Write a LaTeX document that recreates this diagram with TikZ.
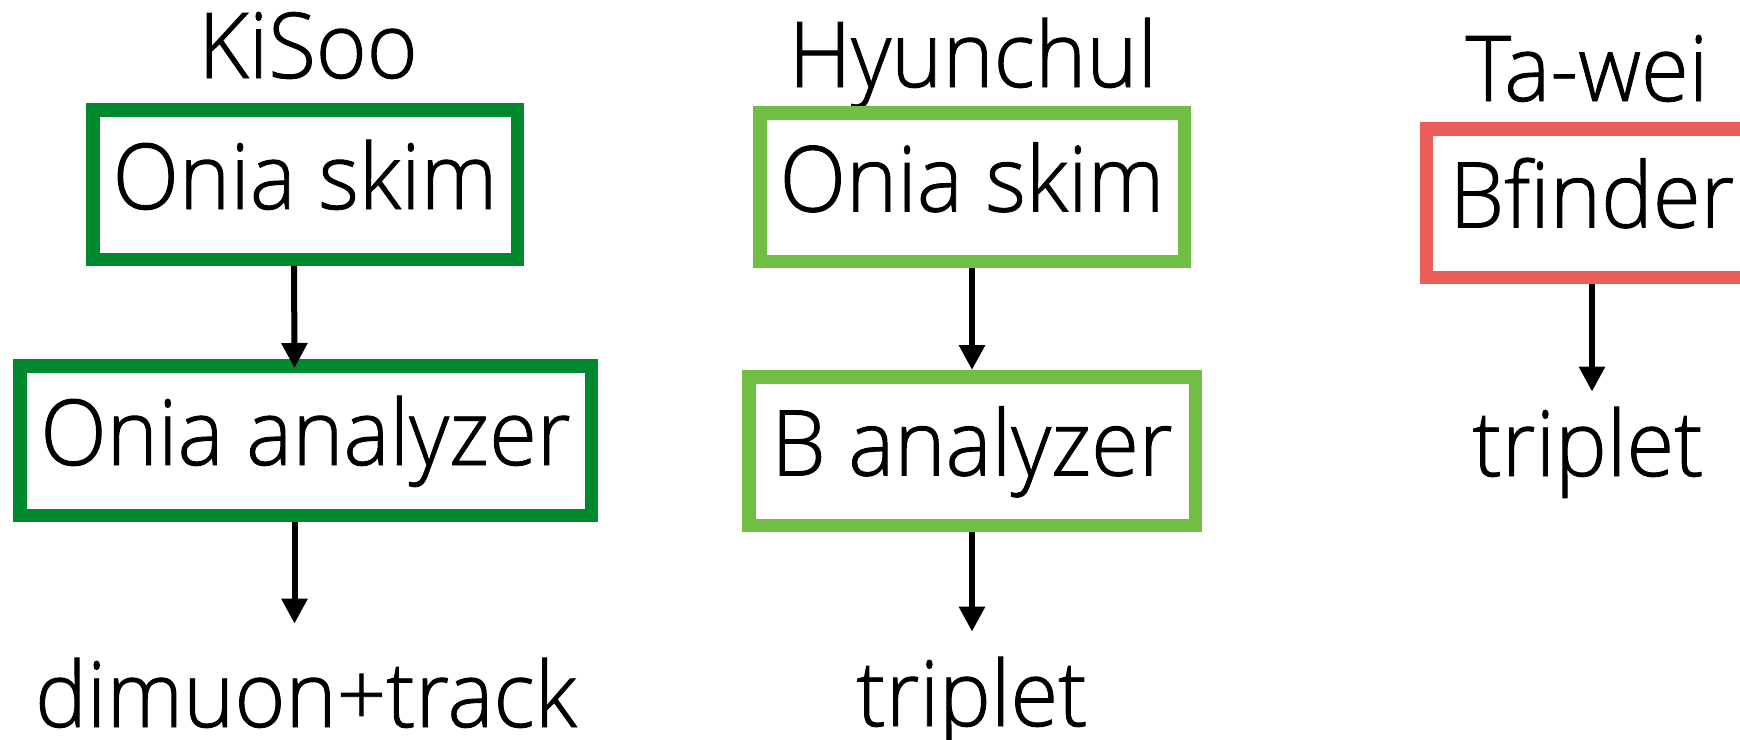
\documentclass[tikz,border=0pt]{standalone}
\usepackage{fontspec}
\setmainfont{Open Sans Light}[FakeStretch=0.955,FakeBold=1]
\usetikzlibrary{arrows.meta}
\definecolor{dkgreen}{RGB}{0,136,46}
\definecolor{ltgreen}{RGB}{112,191,68}
\definecolor{redbox}{RGB}{235,94,90}
\tikzset{
  lbl/.style={inner sep=0pt, anchor=base, font=\fontsize{45.5}{50}\selectfont},
  outtxt/.style={inner sep=0pt, anchor=base, text height=34.5pt, text depth=0pt, font=\fontsize{45.5}{50}\selectfont},
  procbox/.style={draw=#1, line width=6.75pt, inner sep=0pt, text height=32.5pt, text depth=8pt, fill=white, font=\fontsize{45.5}{50}\selectfont},
  arr/.style={line width=3pt, -{Triangle[width=12.5pt,length=12.5pt]}}
}
\begin{document}
\begin{tikzpicture}[x=0.5pt,y=-0.5pt]
\clip (0,0) rectangle (1740,739);
\fill[white] (0,0) rectangle (1740,739);
% headers
\node[lbl] (h1) at (308,78) {KiSoo};
\node[lbl] (h2) at (973,87) {Hyunchul};
\node[lbl] (h3) at (1587,101) {Ta-wei};
% boxes
\node[procbox=dkgreen, minimum width=212.25pt, minimum height=74.75pt] (b1) at (305,184.5) {Onia skim};
\node[procbox=dkgreen, minimum width=285.75pt, minimum height=74.75pt] (b2) at (305.5,440.5) {Onia analyzer};
\node[procbox=ltgreen, minimum width=212.25pt, minimum height=74.25pt] (b3) at (972,187) {Onia skim};
\node[procbox=ltgreen, minimum width=223.25pt, minimum height=74.25pt] (b4) at (972,451) {B analyzer};
\node[procbox=redbox, minimum width=165.75pt, minimum height=74.25pt] (b5) at (1592,203) {Bfinder};
% outputs
\node[outtxt] (o1) at (306,727) {dimuon+track};
\node[outtxt] (o2) at (972,726) {triplet};
\node[outtxt] (o3) at (1588,476) {triplet};
% arrows
\draw[arr, shorten >=-4.5pt] ([xshift=-5.5pt]b1.south) -- ([xshift=-5.5pt]b2.north);
\draw[arr, shorten >=17pt] ([xshift=-5.5pt]b2.south) -- ([xshift=-5.5pt]b2.south |- o1.north);
\draw[arr] (b3.south) -- (b4.north);
\draw[arr, shorten >=12.5pt] (b4.south) -- (b4.south |- o2.north);
\draw[arr, shorten >=7.5pt] (b5.south) -- (b5.south |- o3.north);
\end{tikzpicture}
\end{document}
